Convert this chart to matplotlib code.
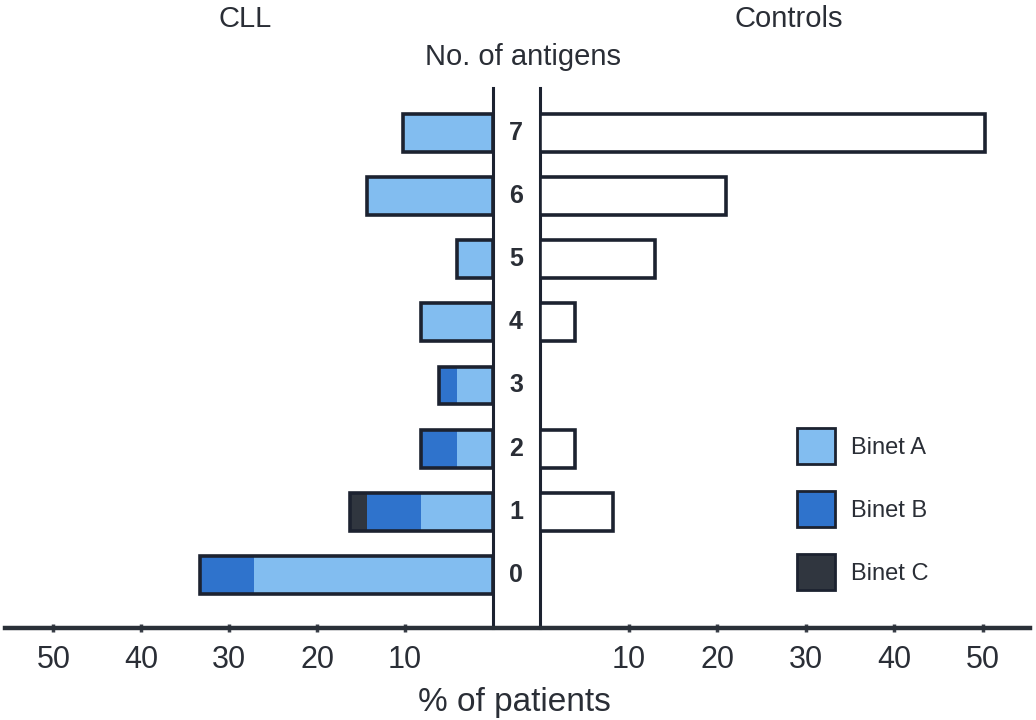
import matplotlib
matplotlib.use("Agg")
import matplotlib.pyplot as plt
import matplotlib.transforms as mtransforms
from matplotlib.patches import Patch
from matplotlib.lines import Line2D
import numpy as np

plt.rcParams['font.family'] = ['Liberation Sans', 'DejaVu Sans']

# Data (% of patients)
antigens = [0, 1, 2, 3, 4, 5, 6, 7]
cll_binet_a = [27.2, 8.2, 4.1, 4.1, 8.2, 4.1, 14.3, 10.2]
cll_binet_b = [6.1, 6.1, 4.1, 2.0, 0.0, 0.0, 0.0, 0.0]
cll_binet_c = [0.0, 2.0, 0.0, 0.0, 0.0, 0.0, 0.0, 0.0]
controls = [0.0, 8.2, 4.0, 0.0, 4.0, 13.0, 21.0, 50.2]
tick_values = [10, 20, 30, 40, 50]
legend_labels = ['Binet A', 'Binet B', 'Binet C']

col_a = '#82bdf0'
col_b = '#2f73cc'
col_c = '#30363f'
edge = '#1c2230'
txt = '#2a2e36'

W, H = 1036, 720
fig = plt.figure(figsize=(W / 100, H / 100), dpi=100)
y0 = (H - 628) / H
hgt = 540 / H
axL = fig.add_axes([5 / W, y0, (493 - 5) / W, hgt])
axR = fig.add_axes([540 / W, y0, (1030 - 540) / W, hgt])

bh = 0.6
y = np.array(antigens)
a = np.array(cll_binet_a)
b = np.array(cll_binet_b)
c = np.array(cll_binet_c)

# CLL side: filled segments without edges, then a common outline
axL.barh(y, a, height=bh, color=col_a, edgecolor='none', zorder=2)
axL.barh(y, b, left=a, height=bh, color=col_b, edgecolor='none', zorder=2)
axL.barh(y, c, left=a + b, height=bh, color=col_c, edgecolor='none', zorder=2)
axL.barh(y, a + b + c, height=bh, color='none', edgecolor=edge, linewidth=2.6, zorder=3)

axR.barh(y, controls, height=bh, color='white', edgecolor=edge, linewidth=2.6, zorder=3)

axL.set_xlim(55.5, 0)
axR.set_xlim(0, 55.3)
for ax in (axL, axR):
    ax.set_ylim(-0.84, 7.71)
    ax.set_yticks([])
    ax.set_facecolor('none')
    for s in ax.spines.values():
        s.set_visible(False)
    ax.set_xticks(tick_values)
    ax.set_xticklabels([str(v) for v in tick_values])
    ax.tick_params(axis='x', direction='inout', length=6, width=2.5, color='#3a3f48',
                   labelsize=22, labelcolor=txt, pad=9)

axL.spines['right'].set_visible(True)
axL.spines['right'].set_linewidth(2.2)
axL.spines['right'].set_color(edge)
axR.spines['left'].set_visible(True)
axR.spines['left'].set_linewidth(2.2)
axR.spines['left'].set_color(edge)

# bottom baseline spanning both panels
fig.add_artist(Line2D([5 / W, 1030 / W], [y0, y0], transform=fig.transFigure,
                      color='#2a3038', linewidth=3.2, zorder=5))

# antigen numbers between the two panels
trans = mtransforms.blended_transform_factory(fig.transFigure, axR.transData)
for v in antigens:
    fig.text(516 / W, v, str(v), transform=trans, ha='center', va='center',
             fontsize=18, fontweight='bold', color=txt)

fig.text(245 / W, 1 - 27 / H, 'CLL', ha='center', va='baseline', fontsize=21, color=txt)
fig.text(789 / W, 1 - 27 / H, 'Controls', ha='center', va='baseline', fontsize=21, color=txt)
fig.text(523 / W, 1 - 65 / H, 'No. of antigens', ha='center', va='baseline', fontsize=21, color=txt)
fig.text(514 / W, 1 - 711 / H, '% of patients', ha='center', va='baseline', fontsize=24, color=txt)

handles = [Patch(facecolor=col_a, edgecolor=edge, linewidth=2),
           Patch(facecolor=col_b, edgecolor=edge, linewidth=2),
           Patch(facecolor=col_c, edgecolor=edge, linewidth=2)]
fig.legend(handles, legend_labels, loc='upper left',
           bbox_to_anchor=(797 / W, 1 - 428 / H), frameon=False, fontsize=17,
           handlelength=1.6, handleheight=2.0, handletextpad=0.7, labelspacing=1.12,
           borderpad=0, borderaxespad=0, labelcolor=txt)

fig.savefig('out.png', dpi=100, facecolor='white')
